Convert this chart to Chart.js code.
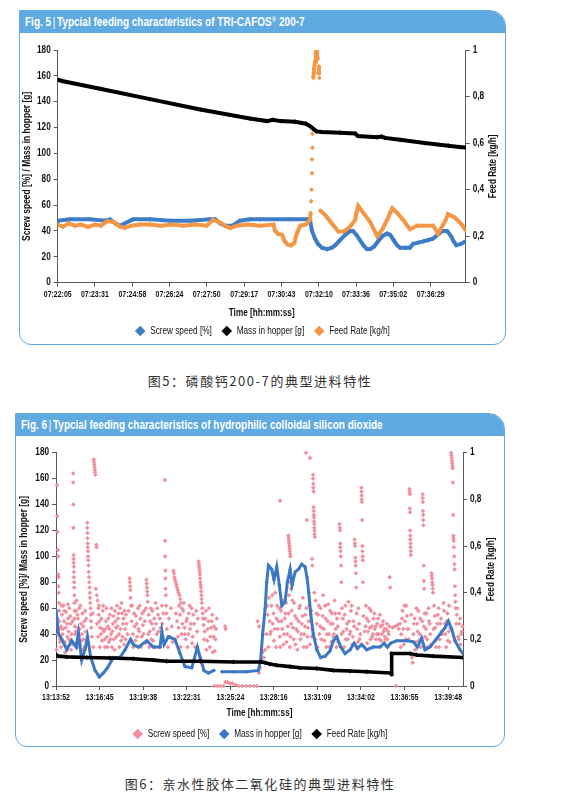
<!DOCTYPE html>
<html>
<head>
<meta charset="utf-8">
<script src="https://cdn.jsdelivr.net/npm/chart.js@4.4.0/dist/chart.umd.min.js"></script>
<style>
  body { margin:0; background:#fff; width:576px; height:801px; position:relative; overflow:hidden;
         font-family:'Liberation Sans',Arial,sans-serif; }
  .panel { position:absolute; box-sizing:border-box; border:1.5px solid #5faae1; border-radius:0 16px 12px 12px; overflow:hidden; }
  .head { height:22px; background:#5faae1; color:#fff; font-weight:bold; font-size:12.2px; line-height:23px; padding-left:5px; white-space:nowrap; }
  .head span.t { display:inline-block; transform:scaleX(0.82); transform-origin:left center; }
  .head .sep { font-weight:normal; padding:0 2px; }
  .head sup { font-size:7.5px; vertical-align:4px; line-height:0; }
  .cap { position:absolute; left:0; width:520px; text-align:center; font-family:'Noto Sans CJK SC',sans-serif;
         font-size:13px; letter-spacing:1.55px; color:#333; white-space:nowrap; line-height:19px; }
  canvas { position:absolute; }
</style>
</head>
<body>
<div class="panel" style="left:19px;top:10px;width:487px;height:335px;">
  <div class="head"><span class="t">Fig. 5<span class="sep">|</span>Typcial feeding characteristics of TRI-CAFOS<sup>®</sup> 200-7</span></div>
</div>
<canvas id="fig5" width="487" height="313" style="left:19px;top:33px;"></canvas>
<div class="cap" style="top:371px;">图5：磷酸钙200-7的典型进料特性</div>

<div class="panel" style="left:15px;top:413px;width:490px;height:334px;">
  <div class="head"><span class="t">Fig. 6<span class="sep">|</span>Typcial feeding characteristics of hydrophilic colloidal silicon dioxide</span></div>
</div>
<canvas id="fig6" width="490" height="314" style="left:15px;top:435px;"></canvas>
<div class="cap" style="top:774px;">图6：亲水性胶体二氧化硅的典型进料特性</div>

<script>
// Fig. 5 - x values are seconds after the first tick label
var fig5Ticks = ['07:22:05','07:23:31','07:24:58','07:26:24','07:27:50','07:29:17','07:30:43','07:32:10','07:33:36','07:35:02','07:36:29'];
var fig5End = 945;
var fig5Screw = [[0,48],[28,49],[75,49],[110,48],[121,49],[133,46],[144,44],[156,46],[174,49],[214,49],[260,48],[307,48],
  [353,49],[365,49],[376,46],[388,44],[404,44],[422,48],[445,49],[469,49],[538,49],[580,49],[585,47],[589,40],[596,34],
  [603,30],[612,27],[624,26],[635,27],[643,29],[654,33],[666,37],[677,40],[684,40],[692,37],[700,33],[708,29],[716,26],
  [724,26],[733,28],[742,32],[752,36],[763,38],[770,37],[778,33],[786,29],[793,27],[805,27],[816,27],[823,30],[835,31],
  [847,32],[858,33],[869,34],[880,37],[891,40],[902,40],[911,36],[917,32],[923,29],[934,30],[945,32]];
var fig5Mass = [[0,157],[10,156],[98,150],[214,142],[330,134],[445,127],[485,125],[498,126],[516,125],[550,124.5],
  [575,123],[585,121],[592,119],[600,117],[612,116.5],[654,116],[689,115.5],[695,113.5],[740,112.5],[750,113],[758,112],
  [793,110.5],[850,108],[905,106],[930,105],[945,104.5]];
var fig5Feed = [[0,0.25],[12,0.24],[25,0.255],[40,0.245],[55,0.25],[70,0.24],[86,0.25],[100,0.245],[115,0.265],[130,0.26],
  [145,0.24],[156,0.235],[170,0.245],[190,0.25],[214,0.25],[240,0.245],[265,0.25],[290,0.245],[320,0.25],[345,0.245],
  [360,0.27],[375,0.26],[392,0.24],[400,0.235],[415,0.245],[440,0.25],[470,0.245],[500,0.25],[503,0.225],[510,0.21],
  [520,0.205],[525,0.18],[532,0.165],[540,0.16],[548,0.17],[552,0.2],[556,0.22],[562,0.245],[575,0.25],[584,0.27],
  [586,0.30],[587,0.35],[588,0.40],[589,0.47],[589,0.53],[590,0.58],[590,0.64],[592,0.88],[594,0.92],[596,0.95],[598,0.99],
  [600,1.0],[602,0.96],[603,0.9],[605,0.93],[606,0.88],[608,0.31],[620,0.29],[637,0.25],[650,0.22],[662,0.22],[677,0.24],
  [689,0.27],[692,0.30],[696,0.33],[708,0.30],[724,0.26],[732,0.23],[740,0.2],[752,0.23],[763,0.27],[770,0.30],[775,0.32],
  [786,0.30],[800,0.27],[816,0.23],[832,0.245],[870,0.245],[881,0.21],[893,0.25],[899,0.27],[904,0.295],[920,0.28],
  [936,0.25],[945,0.225]];

// Fig. 6
var fig6Ticks = ['13:13:52','13:16:45','13:19:38','13:22:31','13:25:24','13:28:16','13:31:09','13:34:02','13:36:55','13:39:48'];
var fig6End = 1615;
// tall streaks of the screw speed scatter
var fig6ScrewPeaks = [
  [4,155],[5,131],[6,119],[7,105],[8,100],[9,86],[10,84],[10,77],[11,72],[12,64],[13,58],[13,50],[14,44],[15,38],[16,34],[8,40],[20,30],
  [68,164],[68,157],[69,140],[69,122],[70,101],[70,98],[70,95],[71,92],[71,88],[71,84],[72,80],[72,76],[73,70],[73,64],[74,58],[74,52],[75,46],[76,40],[78,33],
  [124,126],[124,122],[125,118],[125,114],[126,110],[126,107],[127,104],[127,100],[128,97],[129,93],[130,88],[131,84],[132,80],[133,76],
  [134,72],[135,68],[136,64],[137,60],[138,55],[139,50],[140,45],
  [150,175],[151,173],[152,171],[153,169],[154,167],[155,165],[156,163],[160,109],[161,107],[158,75],[162,70],[165,66],[168,60],
  [292,83],[293,80],[294,77],[295,74],[296,68],[298,62],
  [359,82],[360,79],[361,76],[362,73],[363,70],[364,65],
  [432,159],[433,112],[433,100],[434,89],[434,83],[435,75],[436,70],[437,62],[438,56],
  [466,89],[468,87],[470,84],[472,82],[475,80],[478,78],[480,76],[483,74],[486,72],[490,70],[493,67],[496,64],[499,60],
  [566,96],[567,94],[568,92],[569,90],[570,88],[571,86],[572,83],[573,80],[574,78],[575,76],[576,73],[577,70],[578,67],[579,64],[580,60],[582,56],[584,52],[586,47],
  [889,143],[922,116],[923,114],[924,112],[925,110],[926,108],[927,106],[928,104],[929,102],[930,100],[930,80],[932,75],
  [992,180],[1008,176],[995,128],[1016,98],[1017,93],
  [1020,163],[1020,160],[1021,156],[1021,153],[1022,150],[1022,138],[1023,135],[1023,132],[1024,130],[1024,127],[1025,125],[1025,122],[1026,120],[1026,117],[1027,115],
  [1125,125],[1126,122],[1127,120],[1128,110],[1128,107],[1129,104],[1130,100],[1131,93],[1132,80],
  [1185,113],[1186,110],[1187,108],[1188,99],[1188,96],[1189,93],[1190,87],[1191,76],
  [1212,153],[1212,150],[1213,147],[1213,144],[1214,142],[1215,128],[1216,108],[1216,104],[1217,100],[1217,97],[1218,80],
  [1324,84],[1326,76],
  [1403,152],[1403,150],[1404,148],[1404,137],[1405,134],[1405,120],[1406,116],[1406,113],[1407,110],[1407,107],[1408,104],[1408,101],
  [1455,148],[1455,145],[1456,142],[1456,135],[1457,132],[1457,128],[1458,124],[1459,93],[1460,81],[1461,75],
  [1490,87],[1491,85],[1492,83],[1493,80],[1494,78],[1495,75],[1496,72],
  [1568,180],[1569,178],[1570,176],[1571,174],[1572,172],[1573,170],[1574,168],[1575,157],[1576,132],[1577,116],[1577,114],
  [1578,112],[1579,107],[1580,100],[1581,94],[1582,90],[1583,77],[1584,70],[1585,65],[1586,60]];
// zero readings while the screw stood still
var fig6ScrewZero = [[628,0],[640,0],[652,0],[664,0],[672,3],[680,3],[690,2],[700,2],[712,1],[725,0],[740,0],[755,0],
  [770,0],[785,0],[797,0],[1350,0],[805,10],[810,14],[815,20],[820,26],[825,22],[830,28],[800,50],[806,46],[671,46],[673,44]];
// the dense band between ~25 and ~70 %
var fig6ScrewBand = [
  [2,28],[6,52],[17,36],[20,46],[22,62],[24,55],[26,40],[28,44],[30,62],[32,50],[33,58],[35,34],[36,26],[38,45],[40,57],[42,30],
  [44,48],[45,38],[47,63],[48,52],[50,42],[52,36],[53,60],[55,35],[57,54],[58,48],[60,28],[62,40],[64,32],[66,50],[79,42],[80,58],
  [82,66],[84,30],[85,55],[87,52],[88,45],[90,38],[92,60],[94,44],[95,32],[97,62],[100,48],[101,35],[103,40],[105,56],[106,28],
  [108,46],[110,36],[112,50],[113,30],[116,58],[118,42],[120,52],[142,38],[145,56],[148,30],[163,48],[167,38],[170,55],[171,62],
  [172,50],[174,30],[175,45],[178,40],[180,52],[182,35],[184,44],[186,58],[188,62],[190,42],[192,36],[194,30],[196,44],[198,50],
  [200,60],[202,38],[204,30],[206,46],[208,52],[210,34],[212,44],[214,55],[216,36],[218,40],[220,60],[222,30],[224,42],[226,48],
  [228,54],[230,36],[232,28],[234,58],[236,50],[238,45],[240,38],[242,62],[244,46],[246,52],[248,56],[250,40],[252,30],[254,60],
  [256,44],[258,35],[260,64],[262,56],[264,38],[266,48],[268,52],[270,32],[272,58],[274,44],[276,36],[278,55],[280,48],[284,40],
  [288,58],[290,34],[300,50],[302,62],[305,40],[307,30],[310,56],[312,46],[315,35],[317,54],[320,48],[322,38],[325,60],[327,44],
  [330,42],[332,62],[335,52],[337,30],[340,38],[342,56],[345,47],[347,40],[350,58],[352,50],[355,33],[357,60],[366,40],[368,55],
  [370,30],[372,42],[374,50],[376,60],[378,36],[380,48],[382,58],[385,35],[387,44],[390,52],[392,30],[395,64],[397,48],[400,40],
  [402,60],[405,55],[407,42],[410,30],[412,52],[415,45],[417,34],[420,62],[422,48],[424,38],[426,56],[440,44],[444,30],[448,52],
  [452,38],[456,60],[460,46],[463,34],[476,56],[480,50],[484,38],[486,45],[488,62],[492,55],[494,30],[498,40],[502,48],[505,58],
  [507,64],[510,45],[512,40],[515,36],[517,50],[520,52],[522,30],[525,40],[527,56],[530,62],[532,44],[535,48],[538,60],[540,33],
  [542,38],[545,55],[548,48],[552,30],[556,58],[560,42],[563,52],[588,36],[590,42],[592,52],[595,58],[597,28],[600,35],[602,44],
  [605,50],[607,60],[610,30],[612,38],[615,45],[617,50],[620,55],[622,26],[625,38],[627,46],[630,27],[633,36],[635,44],[638,52],
  [835,40],[838,62],[840,55],[843,30],[845,68],[848,50],[850,40],[853,42],[855,62],[858,70],[860,48],[863,56],[865,35],[868,44],
  [870,72],[873,30],[875,52],[878,62],[880,44],[883,50],[885,60],[888,38],[890,30],[893,58],[895,50],[898,44],[900,66],[903,32],
  [905,40],[908,52],[910,56],[913,64],[915,34],[918,40],[920,46],[923,56],[925,70],[928,30],[930,38],[933,48],[935,58],[938,66],
  [940,45],[943,36],[945,64],[948,54],[950,32],[953,44],[955,52],[958,28],[960,42],[963,50],[965,60],[968,62],[970,36],[973,40],
  [975,48],[978,54],[980,68],[983,30],[985,40],[988,46],[990,55],[993,60],[995,30],[998,38],[1000,45],[1003,50],[1005,62],
  [1008,32],[1010,50],[1013,58],[1015,38],[1018,44],[1025,72],[1028,36],[1030,66],[1033,56],[1035,48],[1038,30],[1040,55],
  [1043,62],[1045,40],[1048,46],[1050,60],[1053,36],[1055,45],[1058,54],[1060,70],[1063,44],[1065,35],[1068,62],[1070,52],
  [1073,30],[1075,40],[1078,50],[1080,63],[1083,40],[1085,30],[1088,58],[1090,48],[1093,34],[1095,56],[1098,48],[1100,38],
  [1103,40],[1105,66],[1108,56],[1110,44],[1113,30],[1115,52],[1118,46],[1120,34],[1123,56],[1133,40],[1135,60],[1138,52],
  [1140,42],[1143,30],[1145,55],[1148,62],[1150,36],[1153,44],[1155,48],[1158,36],[1160,65],[1163,50],[1165,40],[1168,42],
  [1170,58],[1173,62],[1175,32],[1178,38],[1180,50],[1183,46],[1193,56],[1195,44],[1198,34],[1200,60],[1203,48],[1205,36],
  [1208,40],[1220,54],[1223,30],[1225,42],[1228,46],[1230,62],[1233,52],[1235,33],[1238,42],[1240,50],[1243,60],[1245,45],
  [1248,36],[1250,58],[1253,46],[1255,38],[1258,40],[1260,52],[1263,56],[1265,44],[1268,46],[1270,36],[1273,40],[1275,48],
  [1278,52],[1280,40],[1283,36],[1285,55],[1288,46],[1290,35],[1293,40],[1295,47],[1298,50],[1300,42],[1303,44],[1305,38],
  [1308,36],[1310,44],[1313,48],[1315,36],[1318,42],[1320,40],[1323,46],[1335,45],[1345,46],[1355,47],[1360,44],
  [1365,48],[1368,30],[1370,40],[1373,52],[1375,58],[1378,44],[1380,32],[1383,62],[1385,50],[1388,36],[1390,62],[1393,54],
  [1395,44],[1398,44],[1400,36],[1410,55],[1413,22],[1415,18],[1418,40],[1420,48],[1423,52],[1425,28],[1428,34],[1430,60],
  [1433,48],[1435,42],[1438,58],[1440,35],[1443,40],[1445,52],[1448,30],[1450,24],[1453,50],[1460,46],[1463,56],[1465,38],
  [1468,44],[1470,56],[1473,36],[1475,30],[1478,60],[1480,50],[1483,48],[1485,40],[1488,32],[1498,44],[1500,62],[1503,54],
  [1505,45],[1508,30],[1510,36],[1513,48],[1515,55],[1518,60],[1520,30],[1523,36],[1525,48],[1528,52],[1530,42],[1533,40],
  [1538,64],[1540,58],[1543,48],[1545,40],[1548,30],[1550,50],[1553,56],[1555,35],[1558,42],[1560,62],[1563,34],[1565,45],
  [1588,48],[1590,55],[1593,60],[1595,38],[1598,36],[1600,48],[1603,52],[1605,32],[1608,40],[1610,42],[1613,46]];
var fig6Mass = [[0,59],[9,41],[23,36],[43,28],[62,35],[80,30],[89,41],[102,20],[115,28],[125,38],[138,22],[155,12],[172,7],
  [188,10],[204,14],[228,22],[254,22],[274,28],[296,36],[307,32],[327,30],[360,35],[386,30],[413,30],[420,42],[429,32],
  [446,38],[472,36],[492,25],[512,15],[539,14],[561,30],[572,22],[587,12],[605,10],[627,12],[640,null],[658,11],[704,11],
  [757,11],[803,12],[812,20],[820,40],[830,60],[836,80],[843,93],[856,90],[865,82],[876,92],[886,78],[896,62],[909,65],
  [918,80],[929,90],[937,78],[949,88],[962,90],[975,94],[988,92],[996,84],[1003,72],[1011,55],[1021,40],[1035,28],[1050,22],
  [1068,23],[1087,27],[1101,35],[1114,38],[1130,30],[1147,25],[1167,28],[1183,33],[1196,29],[1213,32],[1233,28],[1259,30],
  [1286,30],[1302,33],[1315,30],[1328,33],[1352,35],[1392,35],[1418,34],[1434,30],[1451,37],[1464,28],[1484,30],[1504,35],
  [1524,40],[1544,45],[1557,50],[1570,44],[1583,35],[1603,28],[1615,25]];
var fig6Feed = [[0,0.133],[9,0.128],[43,0.125],[122,0.122],[214,0.12],[307,0.117],[386,0.111],[439,0.106],[572,0.106],
  [704,0.103],[816,0.103],[830,0.1],[849,0.094],[876,0.089],[929,0.083],[968,0.078],[1035,0.075],[1101,0.067],[1167,0.064],
  [1233,0.061],[1326,0.056],[1331,0.05],[1332,0.139],[1405,0.139],[1431,0.133],[1497,0.128],[1615,0.122]];

var FONT = "'Liberation Sans',Arial,sans-serif";
var AX = '#595959';
var TXT = '#111';

function secs(s) { var p = s.split(':').map(Number); return p[0] * 3600 + p[1] * 60 + p[2]; }
function pts(a) { return a.map(function (p) { return {x: p[0], y: p[1]}; }); }

// no narrow font installed: squeeze all canvas text horizontally instead
var narrow = {
  id: 'narrow',
  beforeInit: function (chart) {
    var ctx = chart.ctx, sx = 0.82;
    var fill = ctx.fillText.bind(ctx), measure = ctx.measureText.bind(ctx);
    ctx.fillText = function (t, x, y) {
      ctx.save(); ctx.translate(x, y); ctx.scale(sx, 1); fill(t, 0, 0); ctx.restore();
    };
    ctx.measureText = function (t) { return {width: measure(t).width * sx}; };
  }
};

// right axis title reads bottom-to-top in the original
var rightTitle = {
  id: 'rightTitle',
  afterDraw: function (chart, args, opts) {
    var ctx = chart.ctx, ca = chart.chartArea;
    ctx.save();
    ctx.translate(opts.x, (ca.top + ca.bottom) / 2);
    ctx.rotate(-Math.PI / 2);
    ctx.font = 'bold 10px ' + FONT;
    ctx.fillStyle = TXT;
    ctx.textAlign = 'center';
    ctx.textBaseline = 'middle';
    ctx.fillText(opts.text, 0, 0);
    ctx.restore();
  }
};

function makeChart(id, o) {
  var t0 = secs(o.ticks[0]);
  var tickVals = o.ticks.map(function (s) { return secs(s) - t0; });
  var axGrid = {display: true, drawOnChartArea: false, drawTicks: true, tickLength: 4, color: AX};
  return new Chart(document.getElementById(id), {
    type: 'line',
    data: {datasets: o.datasets},
    plugins: [narrow, rightTitle],
    options: {
      responsive: false,
      animation: false,
      layout: {padding: {top: o.top, bottom: 0, left: 0, right: 0}},
      plugins: {
        legend: {
          position: 'bottom',
          labels: {
            usePointStyle: true, pointStyle: 'rectRot', boxHeight: 7.5, padding: 10,
            color: TXT, font: {family: FONT, size: 10},
            filter: function (item) { return item.text !== ''; },
            sort: function (a, b) { return a.datasetIndex - b.datasetIndex; }
          }
        },
        tooltip: {enabled: false},
        rightTitle: {text: 'Feed Rate [kg/h]', x: o.rtx}
      },
      scales: {
        x: {
          type: 'linear', min: 0, max: o.end,
          afterBuildTicks: function (s) { s.ticks = tickVals.map(function (v) { return {value: v}; }); },
          afterFit: function (s) { s.height = o.xh; },
          ticks: {autoSkip: false, maxRotation: 0, padding: 3, color: TXT, font: {family: FONT, size: 8.5, weight: 'bold'},
            callback: function (v) { return o.ticks[tickVals.indexOf(v)]; }},
          grid: axGrid, border: {display: true, color: AX},
          title: {display: true, text: 'Time [hh:mm:ss]', color: TXT, font: {family: FONT, size: 10, weight: 'bold'},
            padding: {top: 0, bottom: o.xtp}}
        },
        y: {
          position: 'left', min: 0, max: 180,
          afterFit: function (s) { s.width = o.yw; },
          ticks: {stepSize: 20, padding: 3, color: TXT, font: {family: FONT, size: 10, weight: 'bold'}},
          grid: axGrid, border: {display: true, color: AX},
          title: {display: true, text: o.yTitle, color: TXT,
            font: {family: FONT, size: 10.3, weight: 'bold'}, padding: {top: o.ytp, bottom: 0}}
        },
        y1: {
          position: 'right', min: 0, max: 1,
          afterFit: function (s) { s.width = o.y1w; },
          ticks: {stepSize: 0.2, padding: 3, color: TXT, font: {family: FONT, size: 10, weight: 'bold'},
            callback: function (v) { return (v === 0 || v === 1) ? String(v) : v.toFixed(1).replace('.', ','); }},
          grid: axGrid, border: {display: true, color: AX}
        }
      }
    }
  });
}

function lineSet(label, data, color, axis, order, extra) {
  var d = {
    label: label, data: pts(data), yAxisID: axis, order: order,
    borderColor: color, backgroundColor: color, borderWidth: 4,
    pointStyle: 'rectRot', pointRadius: 2.4, pointBorderWidth: 0, pointBackgroundColor: color,
    tension: 0, spanGaps: false
  };
  for (var k in extra) d[k] = extra[k];
  return d;
}

function scatterSet(label, data, color, order) {
  return {label: label, data: pts(data), yAxisID: 'y', order: order, showLine: false, clip: false,
    pointStyle: 'rectRot', pointRadius: 2.3, pointBorderWidth: 0, pointBackgroundColor: color,
    borderColor: color, backgroundColor: color};
}

var BLUE5 = '#3d7cc7', ORANGE = '#f39746', BLUE6 = '#3b78c4', PINK = '#f0909f';

makeChart('fig5', {
  ticks: fig5Ticks, end: fig5End, top: 17, xh: 33.3, xtp: -3, yw: 38.7, y1w: 40.3, ytp: 2.3, rtx: 474.3,
  yTitle: 'Screw speed [%] / Mass in hopper [g]',
  datasets: [
    lineSet('Screw speed [%]', fig5Screw, BLUE5, 'y', 2),
    lineSet('Mass in hopper [g]', fig5Mass, '#000', 'y', 3),
    lineSet('Feed Rate [kg/h]', fig5Feed, ORANGE, 'y1', 1, {
      segment: {borderColor: function (c) {
        return Math.abs(c.p1.parsed.y - c.p0.parsed.y) > 0.045 ? 'rgba(0,0,0,0)' : ORANGE;
      }}
    })
  ]
});

makeChart('fig6', {
  ticks: fig6Ticks, end: fig6End, top: 17.7, xh: 33, xtp: -0.3, yw: 41, y1w: 42, ytp: 3.3, rtx: 476.7,
  yTitle: 'Screw speed [%]/ Mass in hopper [g]',
  datasets: [
    scatterSet('Screw speed [%]', fig6ScrewBand, PINK, 3),
    lineSet('Mass in hopper [g]', fig6Mass, BLUE6, 'y', 2, {borderWidth: 3, pointRadius: 2}),
    lineSet('Feed Rate [kg/h]', fig6Feed, '#000', 'y1', 1, {borderWidth: 3.6}),
    scatterSet('', fig6ScrewPeaks, PINK, 4),
    scatterSet('', fig6ScrewZero, PINK, 5)
  ]
});
</script>
</body>
</html>
